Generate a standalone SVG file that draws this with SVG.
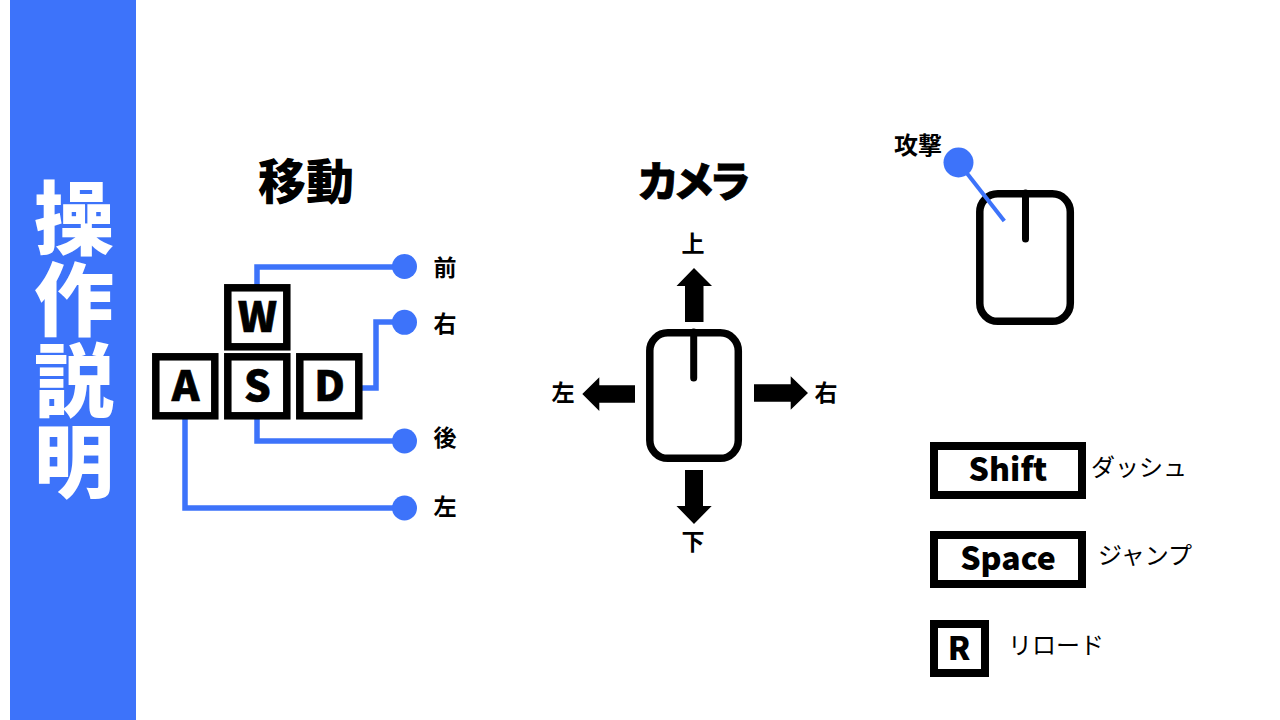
<svg xmlns="http://www.w3.org/2000/svg" width="1280" height="720" viewBox="0 0 1280 720">
<style>
text{font-family:"Noto Sans CJK JP","Noto Sans",sans-serif;fill:#000;text-anchor:middle}
.key{fill:#fff;stroke:#000;stroke-width:7.5}
.mouse{fill:#fff;stroke:#000;stroke-width:7.5}
.slot{fill:none;stroke:#000;stroke-width:7;stroke-linecap:round}
.wire{fill:none;stroke:#3d73fa;stroke-width:5.5}
.dot{fill:#3d73fa}
.k{font-size:42px;font-weight:900;stroke:#000;stroke-width:.6}
.k2{font-size:32px;font-weight:900}
.l{font-size:23px;font-weight:700}
.n{font-size:24px;font-weight:400}
.t{font-size:48px;font-weight:900}
.c{font-size:42px;font-weight:900;letter-spacing:-6px;stroke:#000;stroke-width:.8}
.side{font-size:80px;font-weight:900;fill:#fff;writing-mode:vertical-rl;text-anchor:start;letter-spacing:1px}
</style>
<rect width="1280" height="720" fill="#fff"/>
<g id="sidebar"><rect x="10" y="0" width="126" height="720" fill="#3d73fa"/>
<text class="side" x="74" y="178">操作説明</text></g>
<g id="title-move"><text class="t" x="306" y="199">移動</text></g>
<g id="title-camera"><text class="c" x="691" y="197">カメラ</text></g>
<g id="connectors">
<path class="wire" d="M257 286V267H404"/>
<path class="wire" d="M361 388H376V322H404"/>
<path class="wire" d="M257 418V441H404"/>
<path class="wire" d="M185 418V508H404"/>
</g>
<g id="key-w"><rect class="key" x="227.800" y="287.800" width="59" height="59"/><text class="k" x="257.500" y="332">W</text></g>
<g id="key-a"><rect class="key" x="155.800" y="356.800" width="59" height="59"/><text class="k" x="185.500" y="401">A</text></g>
<g id="key-s"><rect class="key" x="227.800" y="356.800" width="59" height="59"/><text class="k" x="257.500" y="401">S</text></g>
<g id="key-d"><rect class="key" x="299.800" y="356.800" width="59" height="59"/><text class="k" x="329.500" y="401">D</text></g>
<g id="dot-front"><circle class="dot" cx="404.500" cy="266.500" r="12.500"/><text class="l" x="445" y="276">前</text></g>
<g id="dot-right"><circle class="dot" cx="404.500" cy="322.300" r="12.500"/><text class="l" x="445" y="332">右</text></g>
<g id="dot-back"><circle class="dot" cx="404.500" cy="441" r="12.500"/><text class="l" x="445" y="446">後</text></g>
<g id="dot-left"><circle class="dot" cx="404.500" cy="508" r="12.500"/><text class="l" x="445" y="515">左</text></g>
<g id="camera-mouse"><rect class="mouse" x="649.800" y="332.800" width="88.500" height="125.500" rx="18"/><path class="slot" d="M693.700 332V378"/></g>
<g id="arrow-up"><path d="M694 268L712 286H703.500V322H685V286H676.500Z"/><text class="l" x="693" y="252">上</text></g>
<g id="arrow-down"><path d="M685 470H703V506H711.700L694 524L676.500 506H685Z"/><text class="l" x="693" y="550">下</text></g>
<g id="arrow-left"><path d="M582.300 394L599.300 377.300V385.300H635V402.700H599.300V411Z"/><text class="l" x="563" y="401">左</text></g>
<g id="arrow-right"><path d="M808 393L790.700 376.300V384.300H754V401.700H790.700V409.700Z"/><text class="l" x="826" y="401">右</text></g>
<g id="attack-mouse"><rect class="mouse" x="979.800" y="193.800" width="90.500" height="127.500" rx="18"/><path class="slot" d="M1025.500 193V239"/>
<path class="wire" style="stroke-width:4" d="M958.500 162.500L1004.300 221"/><circle class="dot" cx="958.500" cy="162.500" r="15"/><text class="l" style="font-size:24px" x="918" y="154">攻撃</text></g>
<g id="key-shift"><rect class="key" x="934" y="446" width="148" height="49" style="stroke-width:8"/><text class="k2" x="1008" y="481">Shift</text><text class="n" x="1139" y="476">ダッシュ</text></g>
<g id="key-space"><rect class="key" x="934" y="535" width="148" height="49" style="stroke-width:8"/><text class="k2" x="1008" y="570">Space</text><text class="n" x="1145" y="564">ジャンプ</text></g>
<g id="key-r"><rect class="key" x="934" y="624" width="51" height="49" style="stroke-width:8"/><text class="k2" x="959" y="660">R</text><text class="n" x="1056" y="654">リロード</text></g>
</svg>
